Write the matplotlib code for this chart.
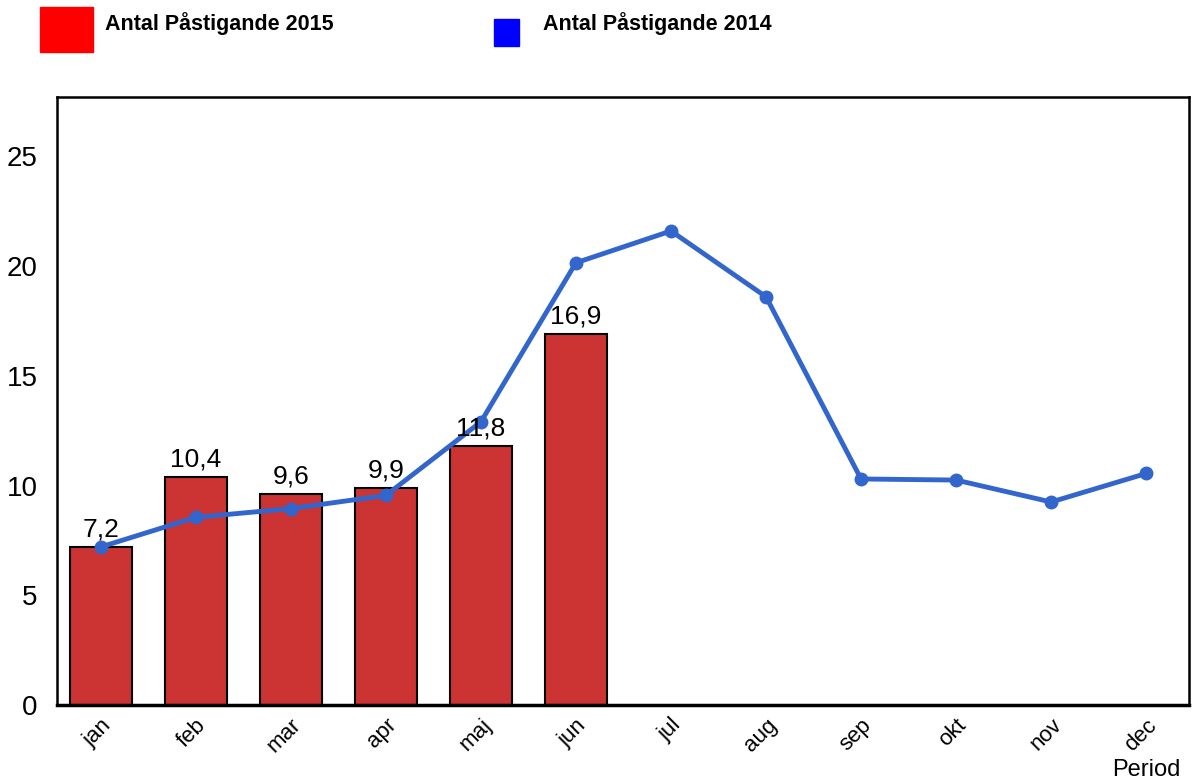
import matplotlib
matplotlib.use("Agg")
import matplotlib.pyplot as plt
import numpy as np

plt.rcParams['font.family'] = ['Liberation Sans', 'DejaVu Sans']

months = ['jan', 'feb', 'mar', 'apr', 'maj', 'jun', 'jul', 'aug', 'sep', 'okt', 'nov', 'dec']
vals_2015 = [7.2, 10.4, 9.6, 9.9, 11.8, 16.9]
vals_2014 = [7.2, 8.55, 8.95, 9.55, 12.9, 20.15, 21.6, 18.6, 10.3, 10.25, 9.25, 10.55]
labels_2015 = ['7,2', '10,4', '9,6', '9,9', '11,8', '16,9']

fig = plt.figure(figsize=(11.94, 7.83), dpi=100)
ax = fig.add_axes([0.0477, 0.0996, 0.9481, 0.7764])

x = np.arange(len(months))
bars = ax.bar(x[:len(vals_2015)], vals_2015, width=0.65, color='#CC3333',
              edgecolor='black', linewidth=1.5, zorder=2)
for b, lab in zip(bars, labels_2015):
    ax.text(b.get_x() + b.get_width() / 2, b.get_height() + 0.25, lab,
            ha='center', va='bottom', fontsize=19, zorder=4)

ax.plot(x, vals_2014, color='#3366CC', linewidth=3.5, marker='o', markersize=9, zorder=3)

ax.set_xlim(-0.46, 11.45)
ax.set_ylim(0, 27.7)
ax.set_yticks([0, 5, 10, 15, 20, 25])
ax.set_xticks(x)
ax.set_xticklabels(months, rotation=45, ha='right', rotation_mode='anchor', fontsize=16)
ax.tick_params(axis='y', labelsize=20, length=0, pad=14)
ax.tick_params(axis='x', length=0, pad=7)
for s in ax.spines.values():
    s.set_linewidth(1.8)
    s.set_color('black')
ax.spines['bottom'].set_linewidth(2.5)

fig.text(0.989, 0.002, 'Period', ha='right', va='bottom', fontsize=17)

# legend drawn as patches at the top
fig.patches.append(plt.Rectangle((40 / 1194, 1 - 52 / 783), 53 / 1194, 45 / 783,
                                 transform=fig.transFigure, color='#FF0000'))
fig.patches.append(plt.Rectangle((494 / 1194, 1 - 46 / 783), 25 / 1194, 27 / 783,
                                 transform=fig.transFigure, color='#0000FF'))
fig.text(105 / 1194, 1 - 24 / 783, 'Antal Påstigande 2015', fontsize=15.5,
         fontweight='bold', va='center', ha='left')
fig.text(543 / 1194, 1 - 24 / 783, 'Antal Påstigande 2014', fontsize=15.5,
         fontweight='bold', va='center', ha='left')

fig.savefig('out.png', dpi=100)
